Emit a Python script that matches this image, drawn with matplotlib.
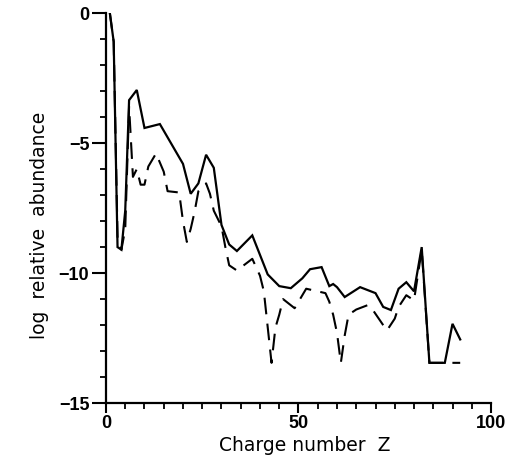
import matplotlib
matplotlib.use("Agg")
import matplotlib.pyplot as plt
from matplotlib.ticker import MultipleLocator

# Solid curve (vertices)
z_solid = [1, 2, 3, 4, 5, 6, 8, 10, 14, 20, 22, 24, 26, 28, 30, 32, 34, 38, 42,
           45, 48, 51, 53, 56, 58, 59, 60, 62, 66, 70, 72, 74, 76, 78, 80, 82,
           84, 88, 90, 92]
v_solid = [0.0, -1.1, -9.0, -9.1, -7.6, -3.35, -2.96, -4.42, -4.27, -5.8, -6.95,
           -6.55, -5.45, -5.95, -8.15, -8.9, -9.15, -8.55, -10.05,
           -10.5, -10.58, -10.2, -9.85, -9.77, -10.5, -10.42, -10.54, -10.92,
           -10.54, -10.77, -11.3, -11.42, -10.6, -10.35, -10.7, -9.0,
           -13.45, -13.45, -11.95, -12.55]

# Dashed curve
z_dash = [1, 2, 3, 4, 5, 6, 7, 8, 9, 10, 11, 13, 15, 16, 19, 20, 21, 22, 23, 24,
          26, 27, 28, 30, 31, 32, 34, 38, 40, 41, 43, 44, 45, 46, 49, 52, 57,
          58, 59, 60, 61, 62, 63, 65, 68, 69, 72, 73, 75, 76, 78, 80, 82, 84, 92]
v_dash = [0.0, -1.1, -8.6, -9.1, -8.3, -3.6, -6.3, -6.0, -6.6, -6.6, -5.9, -5.4,
          -6.1, -6.85, -6.9, -8.0, -8.8, -8.3, -7.65, -6.85,
          -6.55, -6.95, -7.6, -8.2, -9.0, -9.7, -9.9, -9.45, -10.1, -10.7,
          -13.45, -12.1, -11.6, -11.0, -11.35, -10.6, -10.77,
          -11.1, -11.6, -12.3, -13.45, -12.4, -11.6, -11.4, -11.23, -11.35,
          -12.0, -12.2, -11.75, -11.3, -10.85, -11.05, -9.1, -13.45, -13.45]

x_ticks = [0, 50, 100]
y_ticks = [0, -5, -10, -15]

fig = plt.figure(figsize=(5.12, 4.65), dpi=100)
ax = fig.add_axes([0.207, 0.133, 0.752, 0.839])

ax.plot(z_solid, v_solid, color="black", lw=1.6, solid_joinstyle="miter")
ax.plot(z_dash, v_dash, color="black", lw=1.5, linestyle=(0, (8, 4.5)))

ax.set_xlim(0, 100)
ax.set_ylim(-15, 0)
for s in ["top", "right"]:
    ax.spines[s].set_visible(False)
for s in ["left", "bottom"]:
    ax.spines[s].set_linewidth(1.6)

ax.xaxis.set_minor_locator(MultipleLocator(5))
ax.yaxis.set_minor_locator(MultipleLocator(1))
ax.set_xticks(x_ticks)
ax.set_yticks(y_ticks)
ax.tick_params(axis="x", which="major", direction="out", length=7.5, width=1.5,
               pad=1)
ax.tick_params(axis="y", which="major", direction="out", length=10, width=1.5,
               pad=2)
ax.tick_params(which="minor", direction="out", length=4.5, width=1.3)
for lab in ax.get_xticklabels() + ax.get_yticklabels():
    lab.set_fontfamily("Liberation Sans")
    lab.set_fontweight("bold")
    lab.set_fontsize(13)

ax.set_xlabel("Charge number  Z", fontsize=13.5)
ax.set_ylabel("log  relative  abundance", fontsize=13.5)
ax.xaxis.set_label_coords(0.517, -0.085)
ax.yaxis.set_label_coords(-0.148, 0.455)

fig.savefig("out.png", dpi=100)
